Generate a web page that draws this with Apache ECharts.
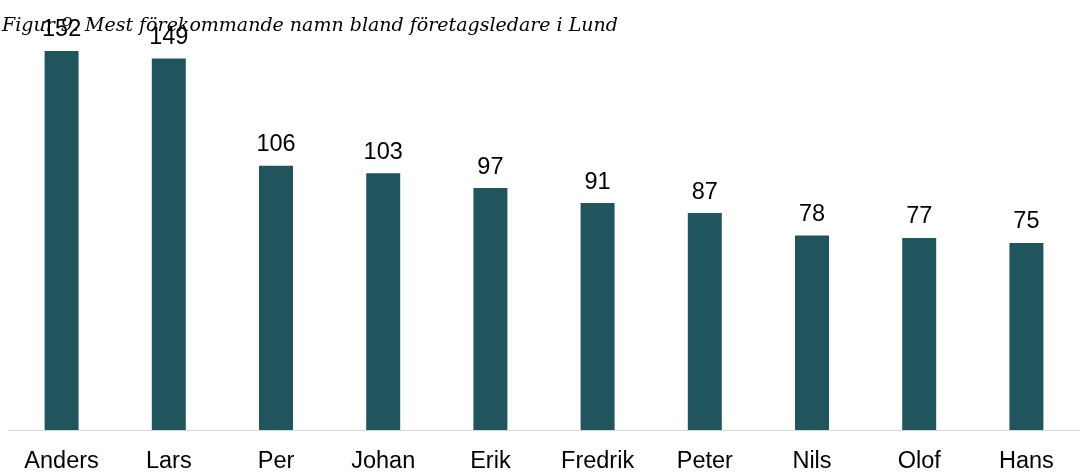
<!DOCTYPE html>
<html><head><meta charset="utf-8">
<script src="https://cdn.jsdelivr.net/npm/echarts@6/dist/echarts.min.js"></script>
<style>html,body{margin:0;padding:0;background:#fff}#c{width:1080px;height:474px}</style>
</head><body><div id="c"></div>
<script>
const categories = ['Anders','Lars','Per','Johan','Erik','Fredrik','Peter','Nils','Olof','Hans'];
const values = [152,149,106,103,97,91,87,78,77,75];
const chart = echarts.init(document.getElementById('c'), null, {renderer:'canvas'});
chart.setOption({
  animation:false,
  title:{text:'Figur 9. Mest förekommande namn bland företagsledare i Lund',left:-3,top:12,
    textStyle:{fontFamily:'DejaVu Serif',fontStyle:'italic',fontWeight:'normal',fontSize:19,color:'#000'}},
  grid:{left:8,right:-12,top:31,bottom:41},
  xAxis:{type:'category',data:categories,
    axisLine:{lineStyle:{color:'#d9d9d9',width:1}},axisTick:{show:false},
    axisLabel:{color:'#000',fontFamily:'Liberation Sans',fontSize:23.5,margin:20}},
  yAxis:{type:'value',min:0,max:160,show:false,splitLine:{show:false}},
  series:[{type:'bar',data:values,barWidth:34,itemStyle:{color:'#20555e'},
    label:{show:true,position:'top',distance:9,color:'#000',fontFamily:'Liberation Sans',fontSize:23.5},z:1}]
});
</script></body></html>
